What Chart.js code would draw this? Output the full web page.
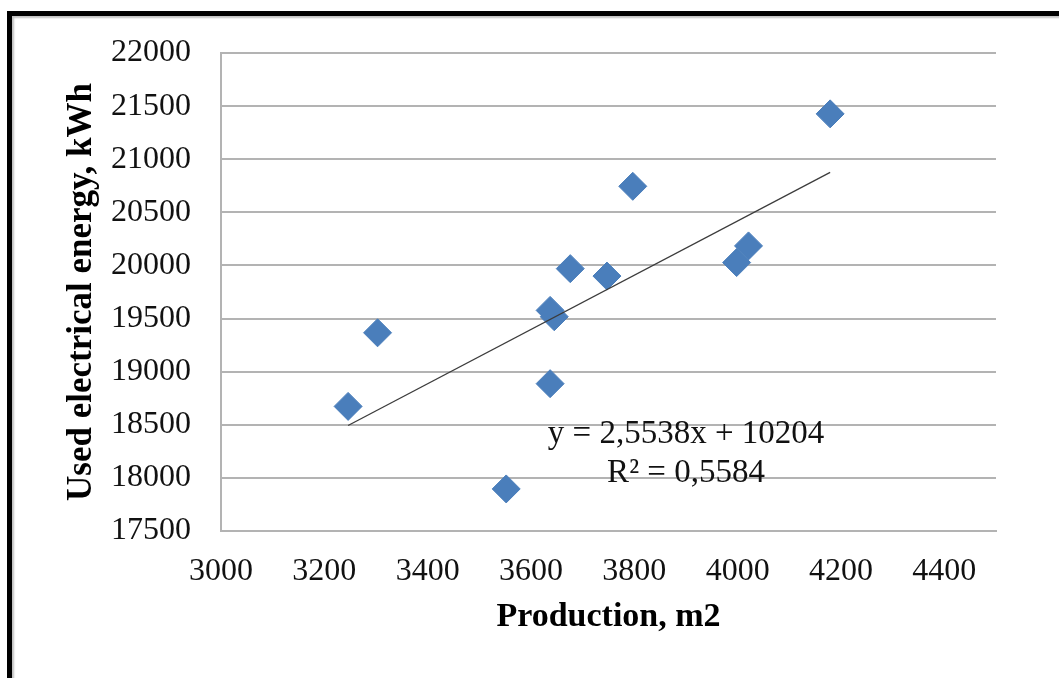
<!DOCTYPE html>
<html>
<head>
<meta charset="utf-8">
<script src="https://cdn.jsdelivr.net/npm/chart.js@4.4.1/dist/chart.umd.min.js"></script>
<style>
  html, body { margin: 0; padding: 0; background: #fff; }
  #wrap { position: relative; width: 1059px; height: 678px; overflow: hidden; }
  #frame { position: absolute; left: 7px; top: 11px; width: 1100px; height: 700px;
           border-top: 5px solid #000; border-left: 5px solid #000;
           box-shadow: inset 2px 2px 2px rgba(0,0,0,0.25); }
  canvas { position: absolute; left: 0; top: 0; }
</style>
</head>
<body>
<div id="wrap">
  <div id="frame"></div>
  <canvas id="chart" width="1059" height="678"></canvas>
</div>
<script>
// production (m2) and used energy (kWh)
var production = [3246, 3303, 3552, 3637, 3637, 3645, 3676, 3747, 3797, 3998, 4021, 4179];
var energy     = [18673, 19366, 17896, 18887, 19577, 19517, 19970, 19900, 20745, 20027, 20184, 21427];

// trendline as printed on the chart
var trendSlope = 2.5538;
var trendIntercept = 10204;
var trendLabel = ["y = 2,5538x + 10204", "R\u00b2 = 0,5584"];

var xTitle = "Production, m2";
var yTitle = "Used electrical energy, kWh";

var points = [];
for (var i = 0; i < production.length; i++) {
    points.push({ x: production[i], y: energy[i] });
}

var xMin = Math.min.apply(null, production);
var xMax = Math.max.apply(null, production);
var trend = [
    { x: xMin, y: trendSlope * xMin + trendIntercept },
    { x: xMax, y: trendSlope * xMax + trendIntercept }
];

var serif = "'Liberation Serif', 'Times New Roman', serif";
var gridGrey = "#b3b3b3";

// plain numbers, no thousands separator
function plain(value) {
    return String(value);
}

// writes the regression equation under the line
var equationPlugin = {
    id: "equation",
    afterDatasetsDraw: function(chart) {
        var ctx = chart.ctx;
        var area = chart.chartArea;
        ctx.save();
        ctx.font = "33px " + serif;
        ctx.fillStyle = "#111";
        ctx.textAlign = "center";
        ctx.textBaseline = "alphabetic";
        var cx = area.left + (area.right - area.left) * 0.6;
        ctx.fillText(trendLabel[0], cx, area.top + 390);
        ctx.fillText(trendLabel[1], cx, area.top + 429);
        ctx.restore();
    }
};

new Chart(document.getElementById("chart").getContext("2d"), {
    type: "scatter",
    data: {
        datasets: [
            {
                type: "line",
                label: "Trend",
                data: trend,
                borderColor: "#3c3c3c",
                borderWidth: 1.3,
                pointRadius: 0,
                fill: false,
                order: 0
            },
            {
                label: "Energy",
                data: points,
                pointStyle: "rectRot",
                pointRadius: 14,
                pointHoverRadius: 14,
                backgroundColor: "#4a7ebb",
                borderColor: "#4a7ebb",
                borderWidth: 1,
                order: 1
            }
        ]
    },
    options: {
        responsive: false,
        animation: false,
        devicePixelRatio: 1,
        layout: { padding: { left: 0, top: 53, right: 63, bottom: 0 } },
        plugins: {
            legend: { display: false },
            tooltip: { enabled: false }
        },
        scales: {
            x: {
                type: "linear",
                min: 3000,
                max: 4500,
                grid: { display: false, drawTicks: false },
                border: { display: true, color: gridGrey, width: 2 },
                ticks: {
                    stepSize: 200,
                    includeBounds: false,
                    padding: 21,
                    color: "#111",
                    font: { family: serif, size: 32 },
                    maxRotation: 0,
                    callback: plain
                },
                title: {
                    display: true,
                    text: xTitle,
                    color: "#000",
                    font: { family: serif, size: 34, weight: "bold" },
                    padding: { top: 0, bottom: 40 }
                },
                afterFit: function(scale) { scale.height = 147; }
            },
            y: {
                type: "linear",
                min: 17500,
                max: 22000,
                grid: { color: gridGrey, lineWidth: 2, drawTicks: false },
                border: { display: true, color: gridGrey, width: 2 },
                ticks: {
                    stepSize: 500,
                    padding: 30,
                    color: "#111",
                    font: { family: serif, size: 32 },
                    callback: plain
                },
                title: {
                    display: true,
                    text: yTitle,
                    color: "#000",
                    font: { family: serif, size: 35, weight: "bold" },
                    padding: { top: 61, bottom: 0 }
                },
                afterFit: function(scale) { scale.width = 221; }
            }
        }
    },
    plugins: [equationPlugin]
});
</script>
</body>
</html>
